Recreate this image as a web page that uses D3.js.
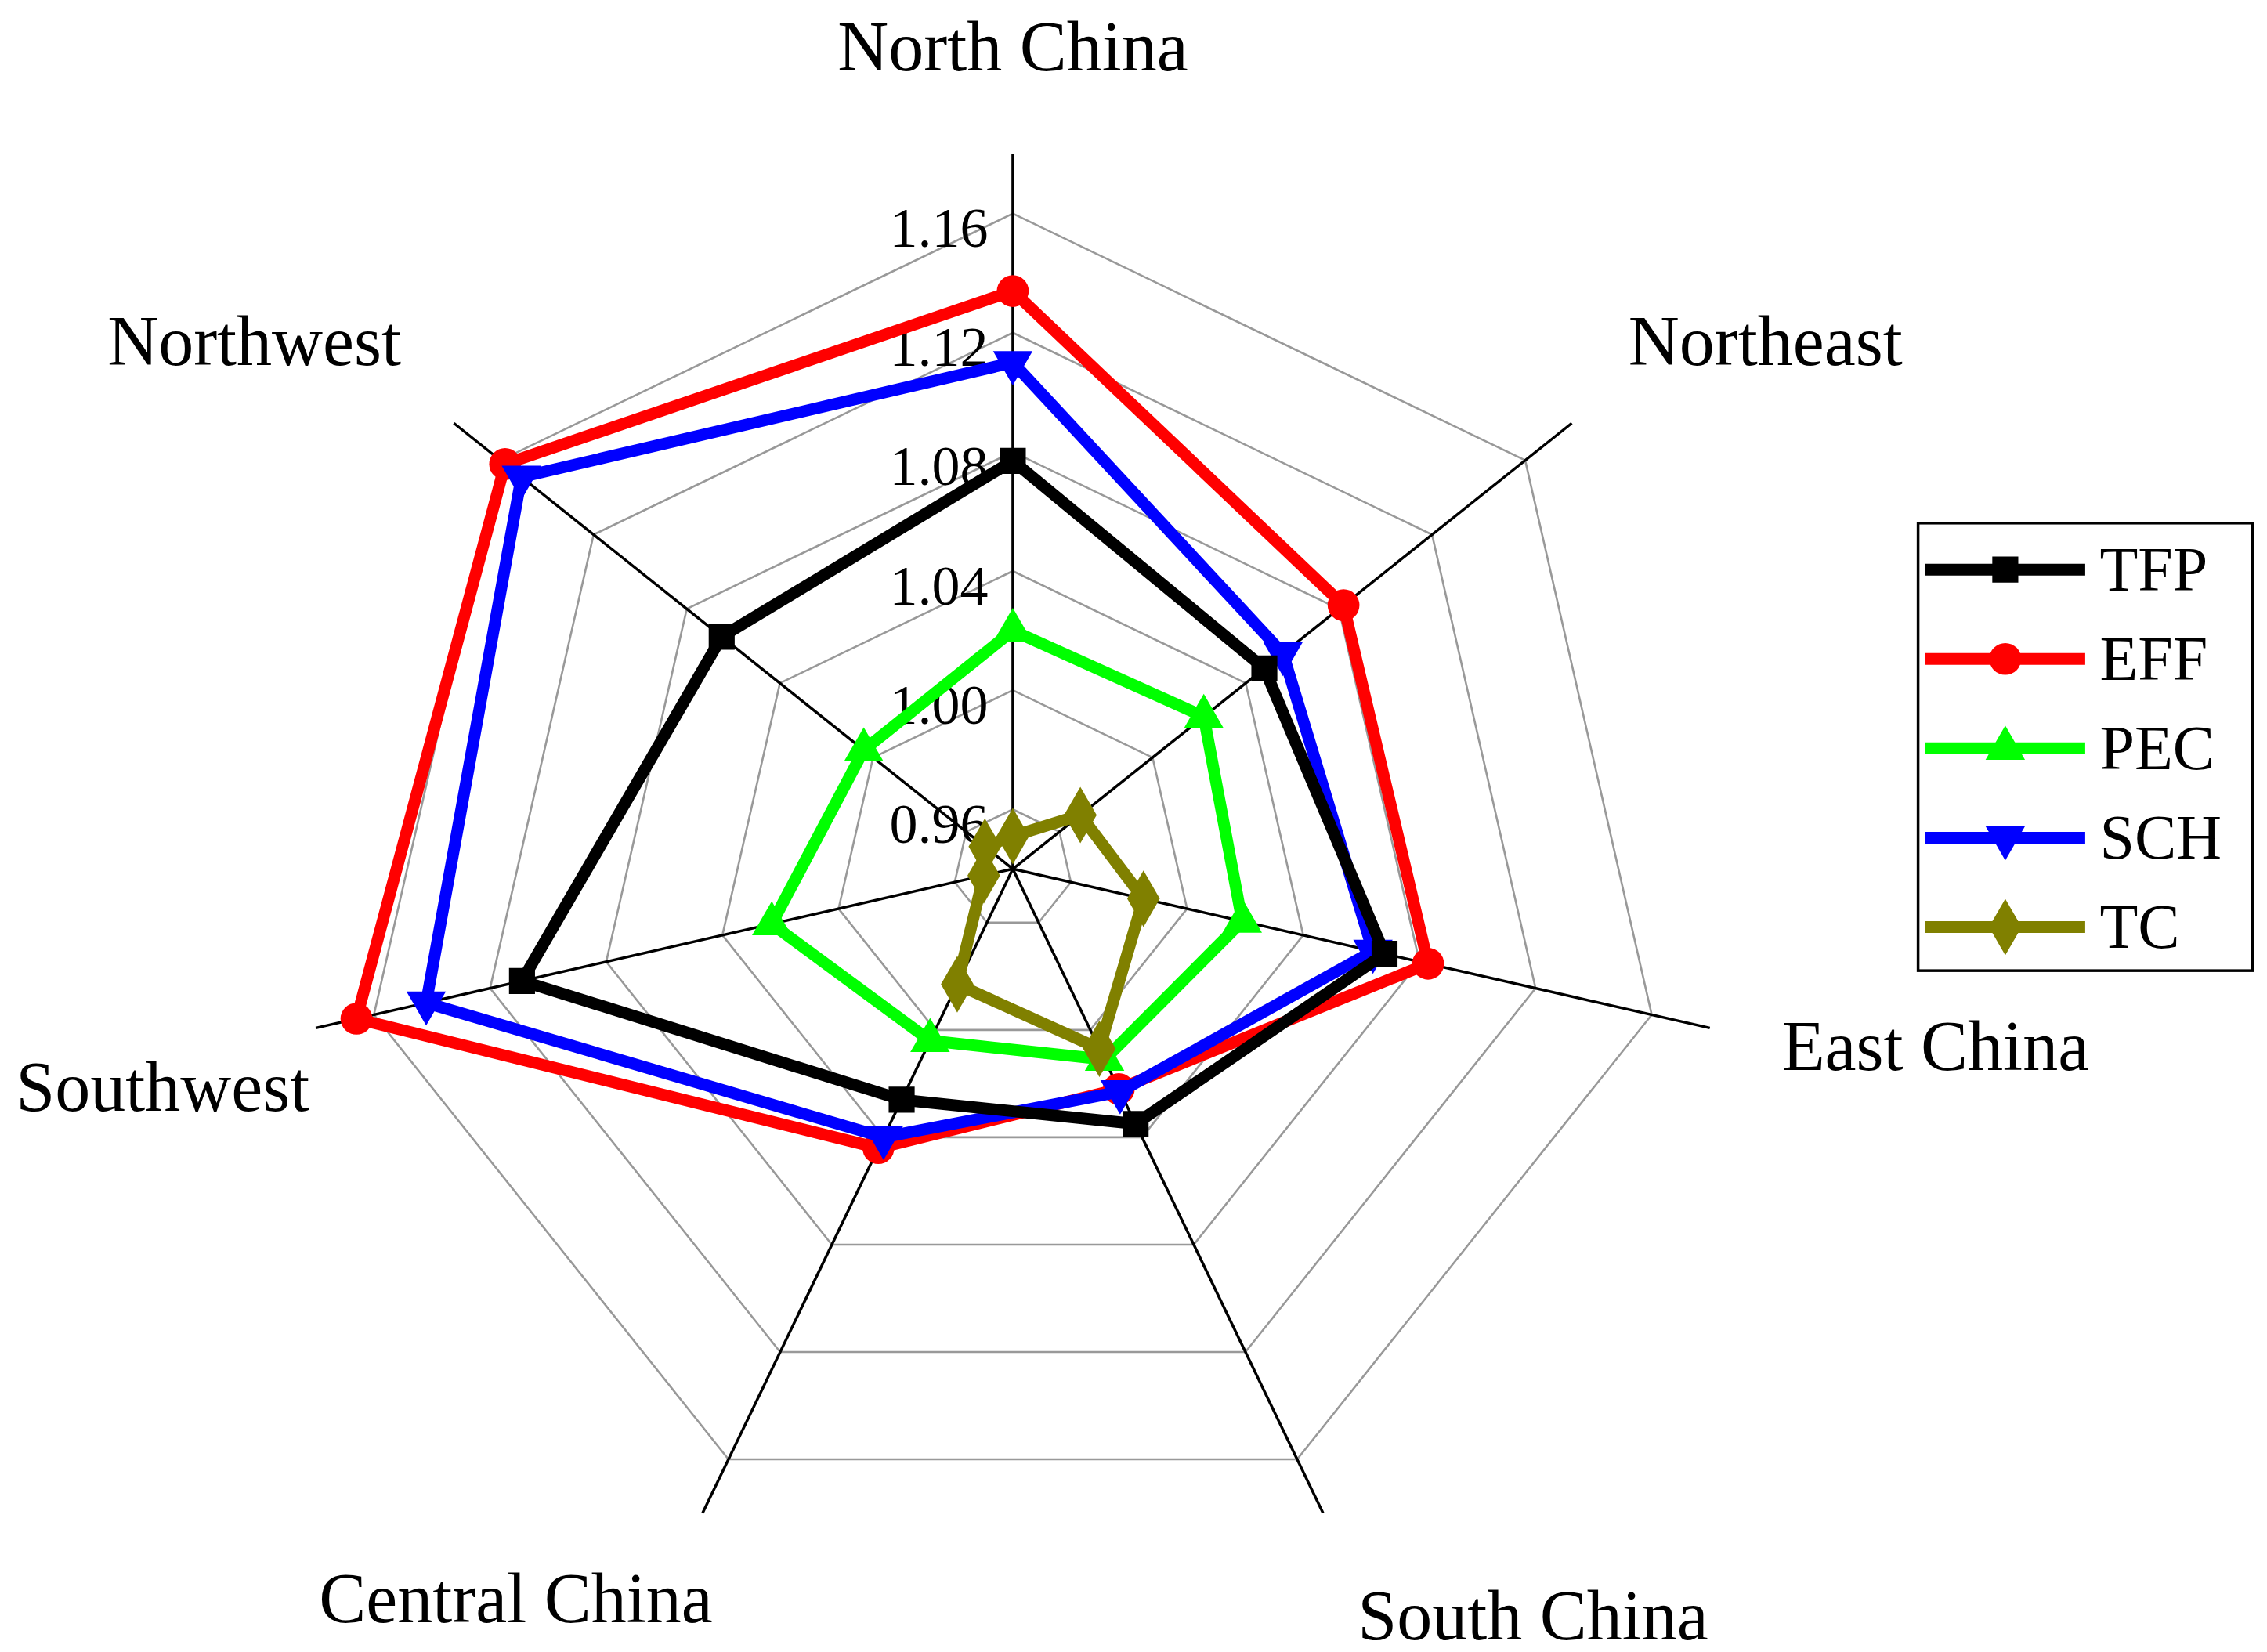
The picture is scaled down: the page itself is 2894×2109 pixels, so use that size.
<!DOCTYPE html>
<html><head><meta charset="utf-8">
<script src="https://cdn.jsdelivr.net/npm/d3@7"></script>
<style>body{margin:0;background:#fff}</style></head>
<body><svg id="c" width="2894" height="2109"></svg>
<script>
const categories = ["North China","Northeast","East China","South China","Central China","Southwest","Northwest"];
const seriesNames = ["TFP","EFF","PEC","SCH","TC"];
const TFP = [1.077,1.048,1.068,1.035,1.026,1.109,1.065];
const EFF = [1.134,1.082,1.083,1.022,1.044,1.166,1.158];
const PEC = [1.020,1.022,1.019,1.011,1.004,1.023,1.004];
const SCH = [1.110,1.056,1.064,1.023,1.040,1.142,1.151];
const TC  = [0.951,0.969,0.985,1.007,0.983,0.950,0.952];
const tickValues = [0.96,1.00,1.04,1.08,1.12,1.16];
const tickLabels = ["0.96","1.00","1.04","1.08","1.12","1.16"];

const S = 1.855;
const cx = 697*S, cy = 598*S;
const svg = d3.select("#c");
const r = d3.scaleLinear().domain([0.94,1.18]).range([0,492*S]);
const n = categories.length;
const ang = i => i*2*Math.PI/n;
const pt = (i,v) => [cx + r(v)*Math.sin(ang(i)), cy - r(v)*Math.cos(ang(i))];
const font = "'Liberation Serif','Times New Roman',serif";

tickValues.forEach(t=>{
  svg.append("polygon").attr("points", d3.range(n).map(i=>pt(i,t).join(",")).join(" "))
    .attr("fill","none").attr("stroke","#999").attr("stroke-width",2.6);
});
d3.range(n).forEach(i=>{
  const p = pt(i,1.18);
  svg.append("line").attr("x1",cx).attr("y1",cy).attr("x2",p[0]).attr("y2",p[1])
    .attr("stroke","#000").attr("stroke-width",3.5);
});
tickValues.forEach((t,k)=>{
  svg.append("text").attr("x",cx-17*S).attr("y",cy - r(t) + 10*S)
    .attr("text-anchor","end").attr("dominant-baseline","central")
    .attr("font-family",font).attr("font-size",72).text(tickLabels[k]);
});
// category label offsets from centre (layout)
const labelDX = [0,518,635,358,-342,-585,-522];
const labelDY = [-566,-363,122,514,502,150,-363];
categories.forEach((c,i)=>{
  svg.append("text").attr("x",cx+labelDX[i]*S).attr("y",cy+labelDY[i]*S)
    .attr("text-anchor","middle").attr("dominant-baseline","central")
    .attr("font-family",font).attr("font-size",90).text(c);
});

const colors = {TFP:"#000000",EFF:"#ff0000",PEC:"#00ff00",SCH:"#0000ff",TC:"#808000"};
const symbols = {TFP:d3.symbolSquare,EFF:d3.symbolCircle,PEC:d3.symbolTriangle,SCH:d3.symbolTriangle,TC:d3.symbolDiamond};
const rot = {TFP:0,EFF:0,PEC:0,SCH:180,TC:0};
const sizes = {TFP:1100,EFF:1300,PEC:1100,SCH:1100,TC:1500};
const data = {TFP,EFF,PEC,SCH,TC};
const order = ["EFF","SCH","TFP","PEC","TC"];
order.forEach(s=>{
  const pts = data[s].map((v,i)=>pt(i,v));
  svg.append("path").attr("d", d3.line().curve(d3.curveLinearClosed)(pts))
    .attr("fill","none").attr("stroke",colors[s]).attr("stroke-width",15).attr("stroke-linejoin","round");
  pts.forEach(p=>{
    svg.append("path").attr("d",d3.symbol().type(symbols[s]).size(sizes[s])())
      .attr("transform",`translate(${p[0]},${p[1]}) rotate(${rot[s]})`).attr("fill",colors[s]);
  });
});

svg.append("rect").attr("x",1320*S).attr("y",360*S).attr("width",230*S).attr("height",308*S)
  .attr("fill","#fff").attr("stroke","#000").attr("stroke-width",3.5);
seriesNames.forEach((s,k)=>{
  const y = (392 + k*61.5)*S;
  svg.append("line").attr("x1",1325*S).attr("x2",1435*S).attr("y1",y).attr("y2",y)
    .attr("stroke",colors[s]).attr("stroke-width",15);
  svg.append("path").attr("d",d3.symbol().type(symbols[s]).size(sizes[s])())
    .attr("transform",`translate(${1380*S},${y}) rotate(${rot[s]})`).attr("fill",colors[s]);
  svg.append("text").attr("x",1445*S).attr("y",y).attr("dominant-baseline","central")
    .attr("font-family",font).attr("font-size",80).text(s);
});
</script></body></html>
